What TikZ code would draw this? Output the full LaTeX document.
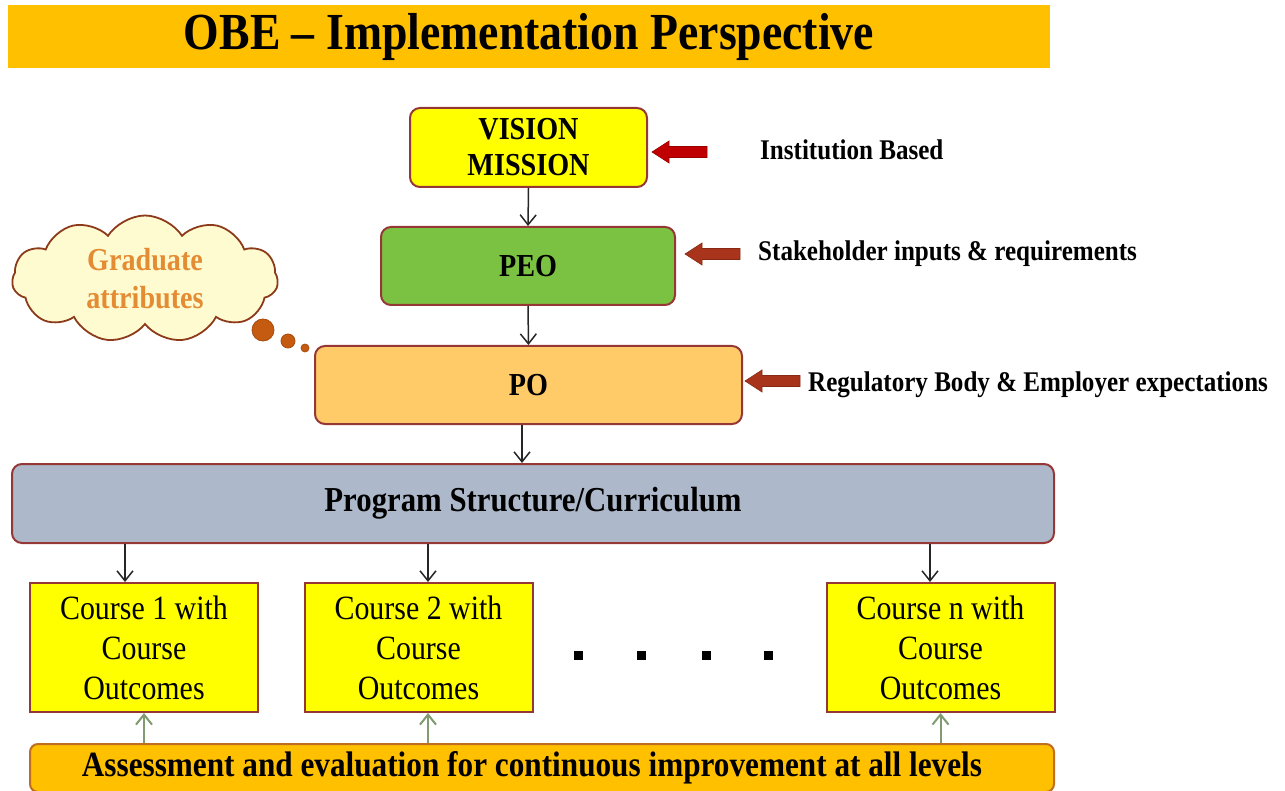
\documentclass[tikz,border=0pt]{standalone}
\usepackage{fontspec}
\setmainfont{Liberation Serif}[FakeStretch=0.88]
\usetikzlibrary{arrows.meta,shapes.symbols}
\definecolor{titleorange}{RGB}{255,192,0}
\definecolor{visionyellow}{RGB}{255,255,0}
\definecolor{peogreen}{RGB}{124,194,66}
\definecolor{polight}{RGB}{255,202,104}
\definecolor{progblue}{RGB}{173,185,202}
\definecolor{boxred}{RGB}{149,55,53}
\definecolor{arrowred}{RGB}{192,0,0}
\definecolor{arrowbrown}{RGB}{168,52,28}
\definecolor{cloudfill}{RGB}{255,251,208}
\definecolor{cloudline}{RGB}{140,58,26}
\definecolor{gradorange}{RGB}{228,140,52}
\definecolor{bubble}{RGB}{197,90,17}
\definecolor{upgreen}{RGB}{128,155,112}
\newcommand{\pxfont}[2]{\fontsize{#1}{#2}\selectfont}
\newcommand{\pushArrow}[2]{%
  \fill[#2,draw=#2!80!black,line width=0.6pt] (#1) -- ++(17,-11) -- ++(0,5.5) -- ++(38,0)
    -- ++(0,11) -- ++(-38,0) -- ++(0,5.5) -- cycle;}
\tikzset{
  stagebox/.style={draw=boxred, line width=2pt, rounded corners=10pt, inner sep=0pt,
    align=center, font=\bfseries\pxfont{32}{36}},
  coursebox/.style={draw=boxred, line width=2pt, fill=visionyellow, inner sep=0pt,
    minimum width=228pt, minimum height=129pt, align=center, font=\pxfont{34}{40}},
  sidenote/.style={anchor=west, inner sep=0pt, font=\bfseries\pxfont{28.5}{32}},
  downarrow/.style={-{Straight Barb[length=10pt,width=16pt]}, line width=1.5pt, black!85},
  uparrow/.style={-{Straight Barb[length=10pt,width=16pt]}, line width=2pt, upgreen},
}
\begin{document}
\begin{tikzpicture}[x=1pt,y=-1pt]
  \useasboundingbox (0,0) rectangle (1285,791);
  % title bar
  \node[fill=titleorange, minimum width=1042pt, minimum height=63pt, inner sep=0pt,
    font=\bfseries\pxfont{52}{56}] (title) at (529,36.5) {OBE -- Implementation Perspective};
  % main chain
  \node[stagebox, fill=visionyellow, minimum width=237pt, minimum height=79pt]
    (vision) at (528.5,147.5) {VISION\\MISSION};
  \node[stagebox, fill=peogreen, minimum width=294pt, minimum height=78pt]
    (peo) at (528,266) {PEO};
  \node[stagebox, fill=polight, minimum width=427pt, minimum height=78pt]
    (po) at (528.5,385) {PO};
  \node[stagebox, fill=progblue, minimum width=1042pt, minimum height=79pt,
    font=\bfseries\pxfont{35}{38}] (prog) at (533,503.5) {Program Structure/Curriculum};
  \draw[downarrow] (vision.south) -- (peo.north);
  \draw[downarrow] (peo.south) -- (po.north);
  \draw[downarrow] ([xshift=-6.5pt]po.south) -- ([xshift=-6.5pt]po.south |- prog.north);
  % inputs on the right
  \coordinate (in1) at (652,152);
  \coordinate (in2) at (685,254);
  \coordinate (in3) at (745,381);
  \pushArrow{in1}{arrowred}
  \pushArrow{in2}{arrowbrown}
  \pushArrow{in3}{arrowbrown}
  \node[sidenote] (inst) at (760,150) {Institution Based};
  \node[sidenote] (stake) at (758,254) {Stakeholder inputs \& requirements};
  \node[sidenote] (regul) at (808,385) {Regulatory Body \& Employer expectations};
  % thought cloud
  \node[cloud, cloud puffs=11, cloud puff arc=115, aspect=2.1, draw=cloudline, line width=1.8pt,
    fill=cloudfill, minimum width=266pt, minimum height=127pt, inner sep=0pt, align=center,
    text=gradorange, font=\bfseries\pxfont{32}{38}] (grad) at (145,279) {Graduate\\attributes};
  \foreach \cx/\cy/\r in {263/330/11, 288/341/7, 305/348/4}
    \draw[bubble!85!black, fill=bubble, line width=0.8pt] (\cx,\cy) circle (\r);
  % courses
  \node[coursebox] (c1) at (144,647.5) {Course 1 with\\Course\\Outcomes};
  \node[coursebox] (c2) at (418.5,647.5) {Course 2 with\\Course\\Outcomes};
  \node[coursebox] (cn) at (940.5,647.5) {Course n with\\Course\\Outcomes};
  \draw[downarrow] ([xshift=-19pt]c1.north |- prog.south) -- ([xshift=-19pt]c1.north);
  \draw[downarrow] ([xshift=9.5pt]c2.north |- prog.south) -- ([xshift=9.5pt]c2.north);
  \draw[downarrow] ([xshift=-10.5pt]cn.north |- prog.south) -- ([xshift=-10.5pt]cn.north);
  \foreach \x in {578,641,706,768}
    \fill (\x-4.5,650.5) rectangle ++(9,9);
  % assessment bar
  \node[draw=boxred!60!titleorange, line width=2pt, fill=titleorange, rounded corners=8pt,
    minimum width=1024pt, minimum height=48pt, inner sep=0pt,
    font=\bfseries\pxfont{35.5}{38}] (assess) at (542,768) {Assessment and evaluation for continuous improvement at all levels\hspace*{20pt}};
  \draw[uparrow] (c1.south |- assess.north) -- (c1.south);
  \draw[uparrow] ([xshift=9.5pt]c2.south |- assess.north) -- ([xshift=9.5pt]c2.south);
  \draw[uparrow] (cn.south |- assess.north) -- (cn.south);
\end{tikzpicture}
\end{document}
